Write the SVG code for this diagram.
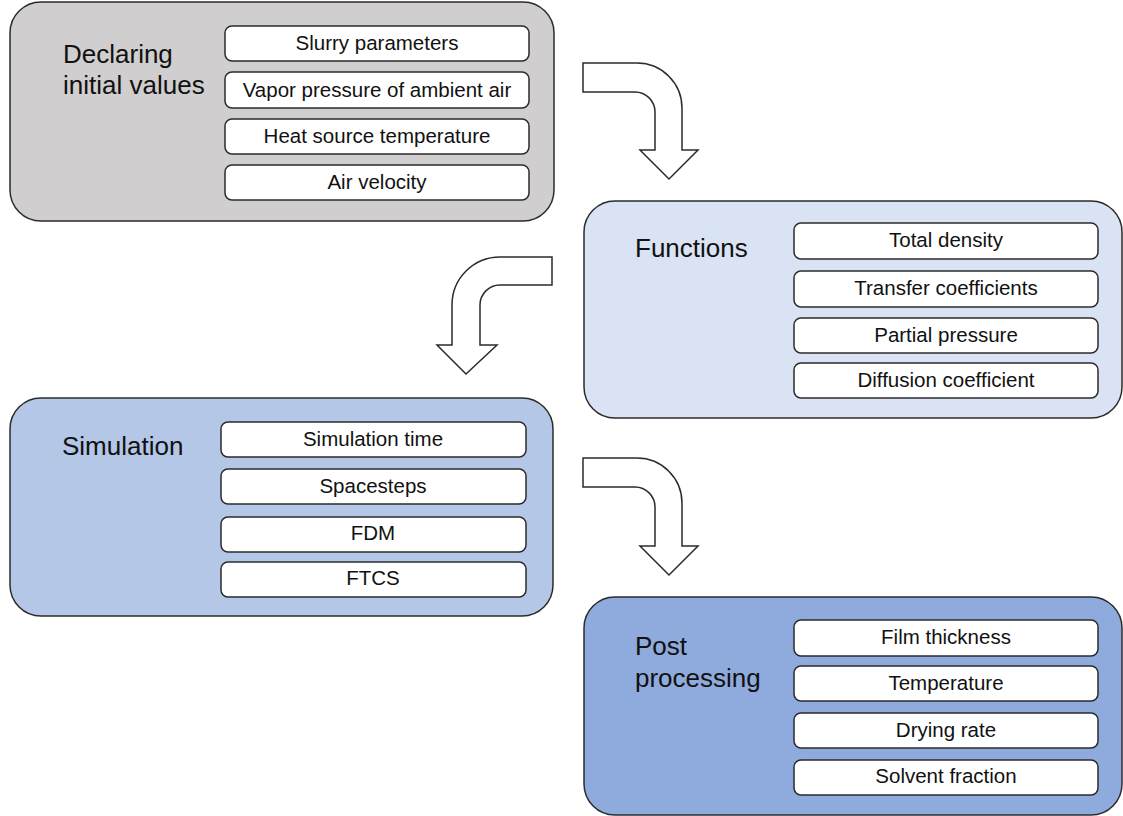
<svg xmlns="http://www.w3.org/2000/svg" width="1123" height="816" viewBox="0 0 1123 816">
<style>
.outer{stroke:#2b2b2b;stroke-width:1.5}
.item{fill:#ffffff;stroke:#2b2b2b;stroke-width:1.5}
.title{font-family:"Liberation Sans",Arial,sans-serif;font-size:26px;fill:#111}
.lbl{font-family:"Liberation Sans",Arial,sans-serif;font-size:20.5px;fill:#111;text-anchor:middle}
.arrow{fill:#ffffff;stroke:#2b2b2b;stroke-width:1.5;stroke-linejoin:miter}
</style>
<rect x="0" y="0" width="1123" height="816" fill="#ffffff"/>
<g id="node-declaring">
<rect class="outer" x="10" y="2" width="544" height="219" rx="31" ry="31" fill="#d0cece"/>
<text class="title" x="63" y="63">Declaring</text>
<text class="title" x="63" y="94">initial values</text>
<rect class="item" x="225" y="26" width="304" height="35" rx="7"/>
<text class="lbl" x="377" y="50">Slurry parameters</text>
<rect class="item" x="225" y="72" width="304" height="36" rx="7"/>
<text class="lbl" x="377" y="97">Vapor pressure of ambient air</text>
<rect class="item" x="225" y="119" width="304" height="35" rx="7"/>
<text class="lbl" x="377" y="143">Heat source temperature</text>
<rect class="item" x="225" y="165" width="304" height="35" rx="7"/>
<text class="lbl" x="377" y="189">Air velocity</text>
</g>
<g id="node-functions">
<rect class="outer" x="584" y="201" width="538" height="217" rx="31" ry="31" fill="#dae3f3"/>
<text class="title" x="635" y="257">Functions</text>
<rect class="item" x="794" y="223" width="304" height="36" rx="7"/>
<text class="lbl" x="946" y="247">Total density</text>
<rect class="item" x="794" y="271" width="304" height="36" rx="7"/>
<text class="lbl" x="946" y="295">Transfer coefficients</text>
<rect class="item" x="794" y="318" width="304" height="35" rx="7"/>
<text class="lbl" x="946" y="342">Partial pressure</text>
<rect class="item" x="794" y="363" width="304" height="35" rx="7"/>
<text class="lbl" x="946" y="387">Diffusion coefficient</text>
</g>
<g id="node-simulation">
<rect class="outer" x="10" y="398" width="543" height="218" rx="31" ry="31" fill="#b4c7e7"/>
<text class="title" x="62" y="455">Simulation</text>
<rect class="item" x="221" y="422" width="305" height="35" rx="7"/>
<text class="lbl" x="373" y="446">Simulation time</text>
<rect class="item" x="221" y="469" width="305" height="35" rx="7"/>
<text class="lbl" x="373" y="493">Spacesteps</text>
<rect class="item" x="221" y="517" width="305" height="35" rx="7"/>
<text class="lbl" x="373" y="540">FDM</text>
<rect class="item" x="221" y="562" width="305" height="35" rx="7"/>
<text class="lbl" x="373" y="585">FTCS</text>
</g>
<g id="node-post">
<rect class="outer" x="584" y="597" width="538" height="218" rx="31" ry="31" fill="#8faadc"/>
<text class="title" x="635" y="655">Post</text>
<text class="title" x="635" y="687">processing</text>
<rect class="item" x="794" y="620" width="304" height="36" rx="7"/>
<text class="lbl" x="946" y="644">Film thickness</text>
<rect class="item" x="794" y="666" width="304" height="35" rx="7"/>
<text class="lbl" x="946" y="690">Temperature</text>
<rect class="item" x="794" y="713" width="304" height="35" rx="7"/>
<text class="lbl" x="946" y="737">Drying rate</text>
<rect class="item" x="794" y="760" width="304" height="35" rx="7"/>
<text class="lbl" x="946" y="783">Solvent fraction</text>
</g>
<g id="connectors">
<path class="arrow" d="M583 63 H637 A45 45 0 0 1 682 108 V150 H698 L669 179 L640 150 H655 V112 A20 20 0 0 0 635 92 H583 Z"/>
<path class="arrow" d="M552 257 H500 A48 48 0 0 0 452 305 V345 H437 L466 374 L497 345 H480 V305 A20 20 0 0 1 500 285 H552 Z"/>
<path class="arrow" d="M583 458 H637 A45 45 0 0 1 682 503 V546 H698 L669 575 L640 546 H655 V507 A20 20 0 0 0 635 487 H583 Z"/>
</g>
</svg>
